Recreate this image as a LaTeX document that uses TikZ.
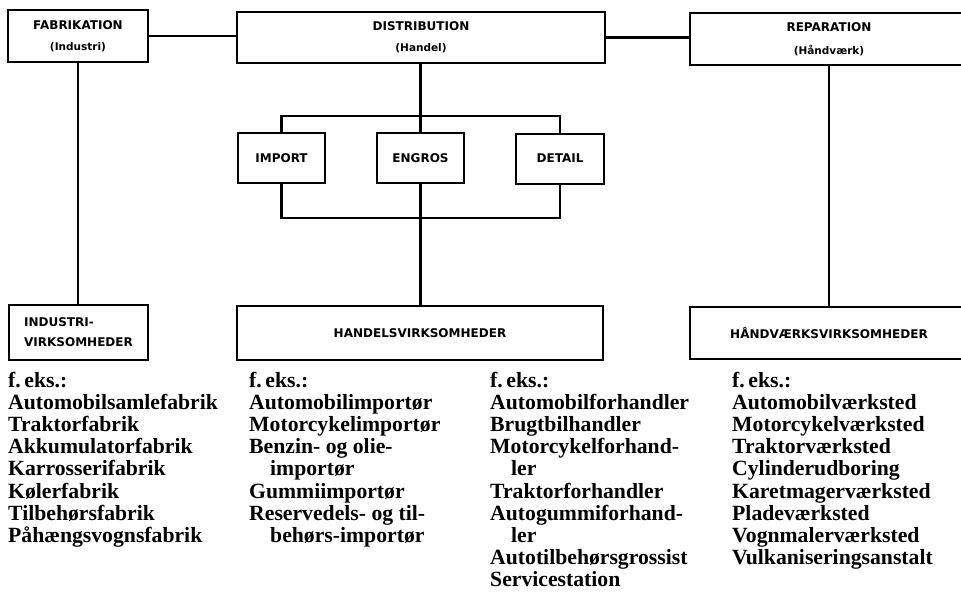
\documentclass[tikz,border=0pt]{standalone}
\usepackage{fontspec}
\setmainfont{Liberation Serif}
\newfontfamily\boxfont{DejaVu Sans}
\newcommand\lline[1]{\hbox{#1}}
\newcommand\lind[1]{\hbox{\kern21pt #1}}
\newcommand\subl[1]{{\fontsize{10.5}{12}\selectfont #1}}
\begin{document}
\begin{tikzpicture}[x=1pt,y=-1pt,
  box/.style={draw, line width=2pt, inner sep=0pt, align=center,
    font=\boxfont\bfseries\fontsize{12}{14}\selectfont},
  conn/.style={line width=2.2pt},
  lst/.style={anchor=base west, inner sep=0pt,
    font=\bfseries\fontsize{21.7}{22.2}\selectfont}]
\useasboundingbox (0,0) rectangle (961,592);
\clip (0,0) rectangle (961,592);
% top row
\node[box, minimum width=140pt, minimum height=52pt] (fab) at (78,36)
  {FABRIKATION\\[7pt]\subl{(Industri)}};
\node[box, minimum width=368pt, minimum height=51pt] (dist) at (421,37.5)
  {DISTRIBUTION\\[7pt]\subl{(Handel)}};
\node[box, minimum width=278pt, minimum height=52pt] (rep) at (829,39)
  {REPARATION\\[9pt]\subl{(Håndværk)}};
% middle row
\node[box, minimum width=87pt, minimum height=50pt] (imp) at (281.5,158) {IMPORT};
\node[box, minimum width=87pt, minimum height=50pt] (eng) at (420.5,158) {ENGROS};
\node[box, minimum width=88pt, minimum height=50pt] (det) at (560,158.5) {DETAIL};
% bottom row
\node[box, minimum width=139pt, minimum height=55pt, align=left] (ind) at (78.5,332.5)
  {INDUSTRI-\\[6pt]VIRKSOMHEDER};
\node[box, minimum width=366pt, minimum height=54pt] (han) at (420,333) {HANDELSVIRKSOMHEDER};
\node[box, minimum width=278pt, minimum height=52pt] (hv) at (829,333) {HÅNDVÆRKSVIRKSOMHEDER};
% connectors
\coordinate (tb) at (420,116);
\coordinate (bb) at (420,218);
\draw[conn] (fab.east) -- (fab.east -| dist.west);
\draw[conn] (dist.east) -- (dist.east -| rep.west);
\draw[conn] (fab.south) -- (fab.south |- ind.north);
\draw[conn] (eng.north |- dist.south) -- (eng.north);
\draw[conn] (imp.north) |- (tb) -| (det.north);
\draw[conn] (imp.south) |- (bb) -| (det.south);
\draw[conn] (eng.south) -- (eng.south |- han.north);
\draw[conn] (rep.south) -- (hv.north);
% example lists
\node[lst] (c1) at (8,387) {\vtop{%
  \lline{f.\,eks.:}
  \lline{Automobilsamlefabrik}
  \lline{Traktorfabrik}
  \lline{Akkumulatorfabrik}
  \lline{Karrosserifabrik}
  \lline{Kølerfabrik}
  \lline{Tilbehørsfabrik}
  \lline{Påhængsvognsfabrik}}};
\node[lst] (c2) at (249,387) {\vtop{%
  \lline{f.\,eks.:}
  \lline{Automobilimportør}
  \lline{Motorcykelimportør}
  \lline{Benzin- og olie-}
  \lind{importør}
  \lline{Gummiimportør}
  \lline{Reservedels- og til-}
  \lind{behørs-importør}}};
\node[lst] (c3) at (490,387) {\vtop{%
  \lline{f.\,eks.:}
  \lline{Automobilforhandler}
  \lline{Brugtbilhandler}
  \lline{Motorcykelforhand-}
  \lind{ler}
  \lline{Traktorforhandler}
  \lline{Autogummiforhand-}
  \lind{ler}
  \lline{Autotilbehørsgrossist}
  \lline{Servicestation}}};
\node[lst] (c4) at (732,387) {\vtop{%
  \lline{f.\,eks.:}
  \lline{Automobilværksted}
  \lline{Motorcykelværksted}
  \lline{Traktorværksted}
  \lline{Cylinderudboring}
  \lline{Karetmagerværksted}
  \lline{Pladeværksted}
  \lline{Vognmalerværksted}
  \lline{Vulkaniseringsanstalt}}};
\end{tikzpicture}
\end{document}
